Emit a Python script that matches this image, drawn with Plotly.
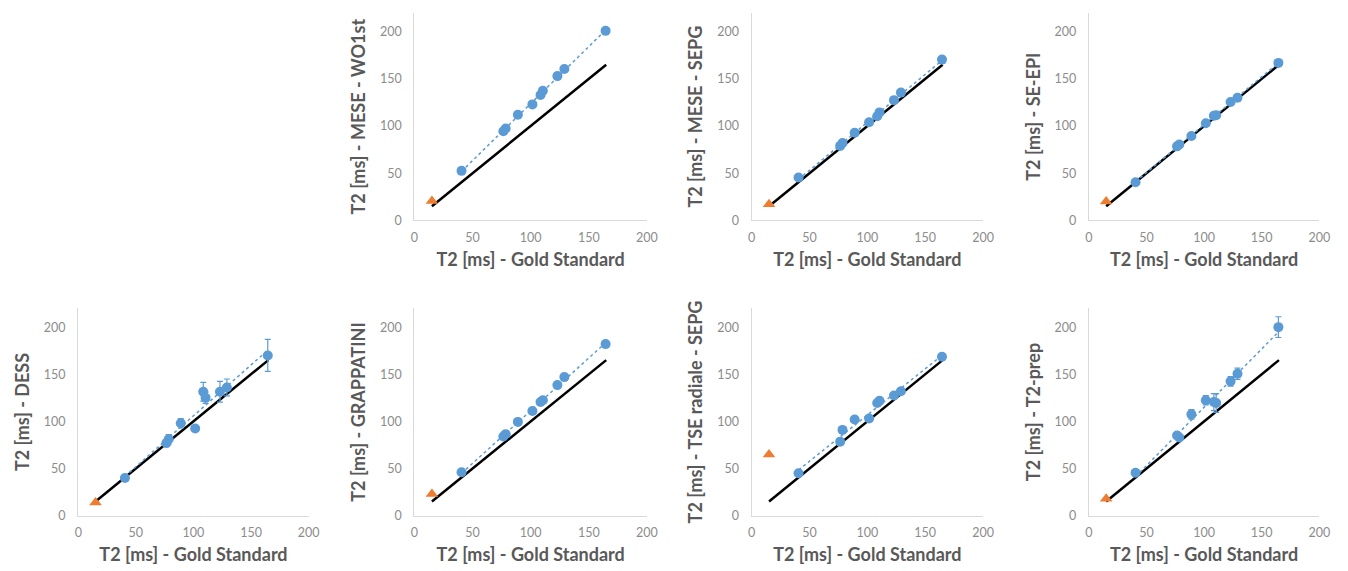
import numpy as np
import plotly.graph_objects as go

# Gold standard T2 values [ms] (x axis, shared by all panels)
gold_x = [40.5, 76.5, 78.5, 89, 101.5, 108.5, 110.5, 123, 129, 164.5]
tri_x = [15]
identity_x = [15, 165]

titles = ["T2 [ms] - MESE - WO1st", "T2 [ms] - MESE - SEPG", "T2 [ms] - SE-EPI",
          "T2 [ms] - DESS", "T2 [ms] - GRAPPATINI", "T2 [ms] - TSE radiale - SEPG",
          "T2 [ms] - T2-prep"]

wo1st = [52.5, 94.5, 97.5, 112, 123, 133, 137.5, 153, 160.5, 201]
sepg = [45.5, 79, 82, 93, 104, 110.5, 114.5, 127.5, 135.5, 170.5]
seepi = [40.5, 78.5, 80.5, 89.5, 103, 111, 111.5, 125.5, 130, 167]
dess = [40, 77, 81, 98, 92.5, 131.5, 125, 131.5, 136, 170]
grappatini = [46, 84, 86.5, 99.5, 111, 120.5, 122.5, 138.5, 147, 182]
tse = [45, 78.5, 91, 102, 103, 119.5, 122, 127.5, 132, 168.5]
t2prep = [45.5, 85, 83, 107.5, 122.5, 120.5, 119.5, 142.5, 150.5, 200]

dess_err = [1, 3, 5, 5, 1, 10, 6, 11, 9, 17]
t2prep_err = [1, 3, 3, 5, 5, 9, 10, 5, 6, 11]

tri_y = [20.5, 17, 20, 14, 23, 65, 18]

series = [wo1st, sepg, seepi, dess, grappatini, tse, t2prep]
errors = [None, None, None, dess_err, None, None, t2prep_err]

# panel positions (row, col)
positions = [(0, 1), (0, 2), (0, 3), (1, 0), (1, 1), (1, 2), (1, 3)]

W, H = 1348, 571
col_px = [(67, 300), (407, 642), (748, 982), (1089, 1322)]
row_px = [(5, 215), (304, 514)]

BLUE = "#5b9bd5"
ORANGE = "#ed7d31"
FONT = "Lato"

fig = go.Figure()
layout = {}
for i, (ys, err, (r, c), title, ty) in enumerate(zip(series, errors, positions, titles, tri_y)):
    n = i + 1
    xa = "x" if n == 1 else f"x{n}"
    ya = "y" if n == 1 else f"y{n}"
    # identity line
    fig.add_trace(go.Scatter(x=identity_x, y=identity_x, mode="lines",
                             line=dict(color="black", width=2.5),
                             xaxis=xa, yaxis=ya, showlegend=False, hoverinfo="skip"))
    # linear trend line through blue points
    p = np.polyfit(gold_x, ys, 1)
    tx = [min(gold_x), max(gold_x)]
    fig.add_trace(go.Scatter(x=tx, y=list(np.polyval(p, tx)), mode="lines",
                             line=dict(color=BLUE, width=1.5, dash="dot"),
                             xaxis=xa, yaxis=ya, showlegend=False, hoverinfo="skip"))
    # blue data points
    sc = dict(x=gold_x, y=ys, mode="markers",
              marker=dict(color=BLUE, size=10, symbol="circle"),
              xaxis=xa, yaxis=ya, showlegend=False)
    if err is not None:
        sc["error_y"] = dict(type="data", array=err, visible=True,
                             color=BLUE, thickness=1.2, width=3)
    fig.add_trace(go.Scatter(**sc))
    # orange triangle
    fig.add_trace(go.Scatter(x=tri_x, y=[ty], mode="markers",
                             marker=dict(color=ORANGE, size=11, symbol="triangle-up"),
                             xaxis=xa, yaxis=ya, showlegend=False))
    x0, x1 = col_px[c]
    y0, y1 = row_px[r]
    key_x = "xaxis" if n == 1 else f"xaxis{n}"
    key_y = "yaxis" if n == 1 else f"yaxis{n}"
    layout[key_x] = dict(domain=[x0 / W, x1 / W], anchor=ya, range=[0, 200],
                         tickvals=[0, 50, 100, 150, 200], showgrid=False, zeroline=False,
                         showline=True, linecolor="#d9d9d9", linewidth=1.3,
                         ticks="outside", ticklen=5, tickcolor="rgba(0,0,0,0)",
                         tickfont=dict(family=FONT, size=12.5, color="#8c8c8c"),
                         title=dict(text="<b>T2 [ms] - Gold Standard</b>", standoff=9,
                                    font=dict(family=FONT, size=18, color="#595959")))
    layout[key_y] = dict(domain=[1 - y1 / H, 1 - y0 / H], anchor=xa, range=[0, 220],
                         tickvals=[0, 50, 100, 150, 200], showgrid=False, zeroline=False,
                         showline=True, linecolor="#d9d9d9", linewidth=1.3,
                         ticks="outside", ticklen=9, tickcolor="rgba(0,0,0,0)",
                         tickfont=dict(family=FONT, size=12.5, color="#8c8c8c"),
                         title=dict(text=f"<b>{title}</b>", standoff=9,
                                    font=dict(family=FONT, size=18, color="#595959")))

fig.update_layout(width=W, height=H, margin=dict(l=0, r=0, t=0, b=0),
                  plot_bgcolor="white", paper_bgcolor="white", **layout)
fig.write_html("out.html")
